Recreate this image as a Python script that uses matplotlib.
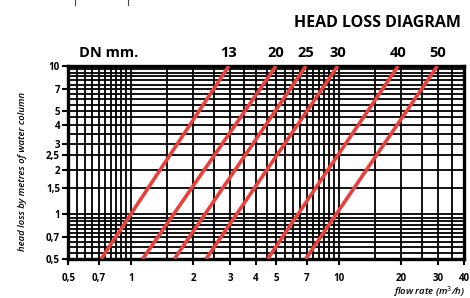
import numpy as np
import matplotlib
matplotlib.use("Agg")
from matplotlib import pyplot as plt
from matplotlib.lines import Line2D

plt.rcParams['font.family'] = ['Open Sans', 'DejaVu Sans']

# diameters and line end points (flow at head loss 0.5 and at 10)
dn = ["13", "20", "25", "30", "40", "50"]
q_low = [0.72, 1.14, 1.62, 2.30, 4.55, 6.93]
q_high = [2.96, 4.99, 6.95, 9.88, 19.3, 29.8]
h_low, h_high = 0.5, 10

xticks = [0.5, 0.7, 1, 2, 3, 4, 5, 7, 10, 20, 30, 40]
xlabels = ["0,5", "0,7", "1", "2", "3", "4", "5", "7", "10", "20", "30", "40"]
yticks = [0.5, 0.7, 1, 1.5, 2, 2.5, 3, 4, 5, 7, 10]
ylabels = ["0,5", "0,7", "1", "1,5", "2", "2,5", "3", "4", "5", "7", "10"]

# grid spacing
xgrid = list(np.arange(0.5, 1.0, 0.05)) + list(np.arange(1, 10, 0.5)) + list(np.arange(10, 40.1, 5))
ygrid = list(np.arange(0.5, 1.0, 0.05)) + list(np.arange(1, 10.01, 0.5))

fig = plt.figure(figsize=(4.7, 2.98), dpi=100)
ax = fig.add_axes([0.1453, 0.1309, 0.8419, 0.6476])
ax.set_xscale("log")
ax.set_yscale("log")
ax.set_xlim(0.5, 40)
ax.set_ylim(0.5, 10)

for g in xgrid:
    ax.axvline(g, color="black", lw=1.3, zorder=1)
for g in ygrid:
    ax.axhline(g, color="black", lw=1.3, zorder=1)

red = "#e8403a"
for lo, hi in zip(q_low, q_high):
    ax.plot([lo, hi], [h_low, h_high], color=red, lw=2.6, solid_capstyle="butt", zorder=3)

for lab, hi in zip(dn, q_high):
    ax.text(hi, 10.9, lab, ha="center", va="bottom", fontsize=10.5, fontweight="bold")
ax.text(0.56, 10.9, "DN mm.", ha="left", va="bottom", fontsize=10.5, fontweight="bold")

ax.minorticks_off()
ax.set_xticks(xticks)
ax.set_xticklabels(xlabels)
ax.set_yticks(yticks)
ax.set_yticklabels(ylabels)
ax.tick_params(axis="both", which="major", length=4, width=1.5, labelsize=7, pad=2)
for t in ax.get_xticklabels() + ax.get_yticklabels():
    t.set_fontweight("bold")
ax.tick_params(axis="x", pad=6)
for s in ax.spines.values():
    s.set_linewidth(2.4)

fig.text(0.981, 0.922, "HEAD LOSS DIAGRAM", ha="right", va="center", fontsize=11.5, fontweight="bold")
fig.text(0.047, 0.425, "head loss by metres of water column", rotation=90, ha="center", va="center",
         fontsize=6.8, style="italic", fontweight="semibold")
fig.text(0.99, 0.02, "flow rate (m$^3$/h)", ha="right", va="center", fontsize=6.8, style="italic",
         fontweight="semibold")

# leftover marks at top
fig.add_artist(Line2D([75 / 470, 75 / 470], [1, 1 - 5 / 298], color="#444444", lw=0.8))
fig.add_artist(Line2D([128 / 470, 128 / 470], [1, 1 - 5 / 298], color="#444444", lw=0.8))

plt.savefig("out.png", dpi=100)
